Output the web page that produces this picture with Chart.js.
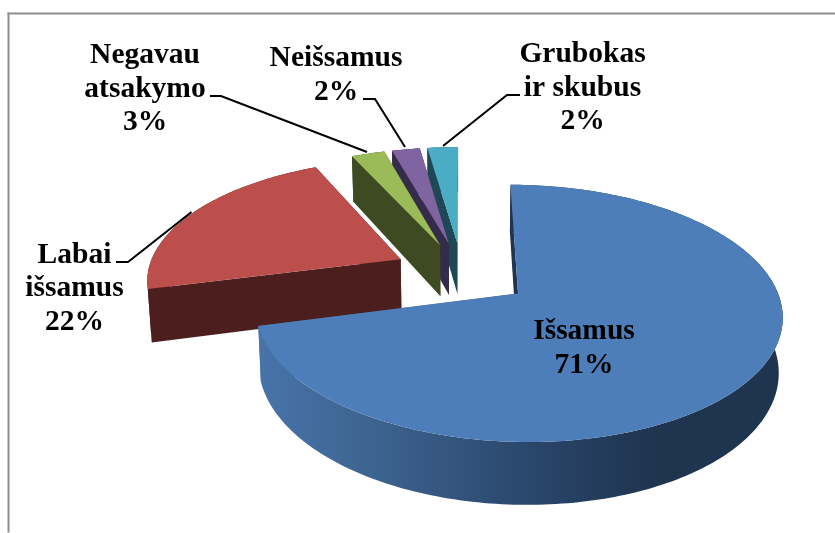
<!DOCTYPE html>
<html><head><meta charset="utf-8">
<style>html,body{margin:0;padding:0;background:#fff}#w{position:relative;width:835px;height:533px}canvas{display:block}</style>
<script src="https://cdn.jsdelivr.net/npm/chart.js@4"></script>
</head><body><div id="w"><canvas id="c" width="835" height="533"></canvas></div>
<script>
const categories = ["Išsamus","Labai išsamus","Negavau atsakymo","Neišsamus","Grubokas ir skubus"];
const values = [71,22.1,2.5,2.1,2.3];
const topColors = ["#4D7EB9","#BC4E4B","#9BBB59","#8064A2","#4BACC6"];
const wallColors = [null,"#4C1F1E","#3E4A22","#352B4A","#1D4855"];
const explode = [72,72,68,68,68];
const labelLines = [["Išsamus","71%"],["Labai","išsamus","22%"],["Negavau","atsakymo","3%"],["Neišsamus","2%"],["Grubokas","ir skubus","2%"]];
const labelX = [584,74.5,145,336,582.5];
const labelY = [339,262.5,63,66,62];
const leaders = [null,[[116,262],[128,262],[191.5,212]],[[210,96],[221,96],[367,152]],[[363,99],[375,99],[405,147]],[[520,95],[507,95],[443,146]]];
const P=0.000573;
const topPlane={x0:462,y0:273,b:0.96,a:0.4517};
const botPlane={x0:462,y0:325.6,b:0.948,a:0.479};
function proj(pl,u,v){const w=1-P*v;return [pl.x0+pl.b*u/w,pl.y0+pl.a*v/w];}
function path(ctx,pts){ctx.beginPath();pts.forEach((p,i)=>i?ctx.lineTo(p[0],p[1]):ctx.moveTo(p[0],p[1]));ctx.closePath();}
const pie3d={id:'pie3d',beforeDatasetsDraw(chart){
  const ctx=chart.ctx,arcs=chart.getDatasetMeta(0).data;
  ctx.save();
  ctx.fillStyle='#fff';ctx.fillRect(0,0,835,533);
  ctx.fillStyle='#8e8e8e';ctx.fillRect(7.5,12.5,827.5,2);ctx.fillRect(7.5,12.5,2,520);
  [4,3,2,1,0].forEach(i=>{
    const el=arcs[i],s=el.startAngle,e=el.endAngle,r=el.outerRadius,m=(s+e)/2,o=explode[i];
    const ox=Math.cos(m)*o,oy=Math.sin(m)*o;
    const rim=[];const n=Math.max(3,Math.ceil((e-s)/0.02));
    for(let k=0;k<=n;k++){const a=s+(e-s)*k/n;rim.push([ox+r*Math.cos(a),oy+r*Math.sin(a)]);}
    const T=p=>proj(topPlane,p[0],p[1]),B=p=>proj(botPlane,p[0],p[1]);
    const apex=[ox,oy];
    let wall=wallColors[i];
    if(!wall){const g=ctx.createLinearGradient(257,0,785,0);
      g.addColorStop(0,'#4874AA');g.addColorStop(0.2,'#3E6592');g.addColorStop(0.53,'#29456A');g.addColorStop(0.75,'#1F344F');g.addColorStop(1,'#1F344F');wall=g;}
    ctx.fillStyle=wall;
    path(ctx,rim.map(T).concat(rim.slice().reverse().map(B)));ctx.fill();
    path(ctx,[T(apex),T(rim[n]),B(rim[n]),B(apex)]);ctx.fill();
    ctx.fillStyle=i===0?'#1F344F':wall;
    path(ctx,[T(apex),T(rim[0]),B(rim[0]),B(apex)]);ctx.fill();
    ctx.fillStyle=topColors[i];
    path(ctx,[T(apex)].concat(rim.map(T)));ctx.fill();
  });
  ctx.strokeStyle='#000';ctx.lineWidth=2;ctx.lineJoin='miter';
  leaders.forEach(l=>{if(!l)return;ctx.beginPath();l.forEach((p,k)=>k?ctx.lineTo(p[0],p[1]):ctx.moveTo(p[0],p[1]));ctx.stroke();});
  ctx.fillStyle='#000';ctx.font='bold 29.5px "Liberation Serif"';ctx.textAlign='center';ctx.textBaseline='alphabetic';
  labelLines.forEach((ls,i)=>ls.forEach((t,k)=>ctx.fillText(t,labelX[i],labelY[i]+k*33.5)));
  ctx.restore();
  return false;
}};
new Chart(document.getElementById('c'),{type:'pie',data:{labels:categories,datasets:[{data:values,backgroundColor:topColors,radius:264,borderWidth:0,offset:explode}]},
 options:{responsive:false,animation:false,layout:{padding:0},plugins:{legend:{display:false},tooltip:{enabled:false},title:{display:false}}},plugins:[pie3d]});
</script></body></html>
